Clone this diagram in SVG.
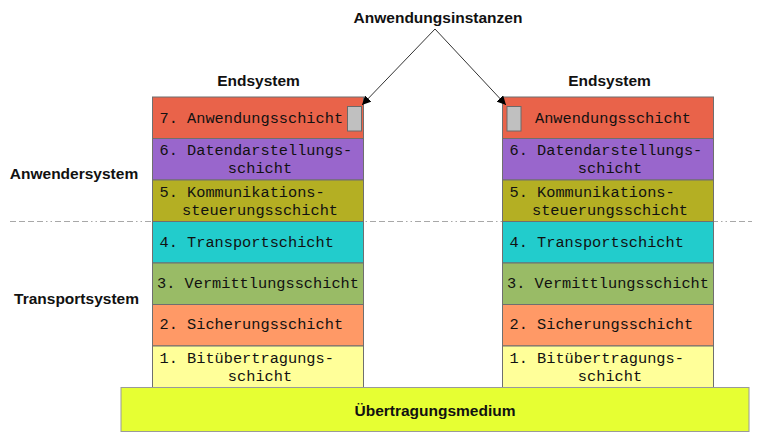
<svg xmlns="http://www.w3.org/2000/svg" width="768" height="442" viewBox="0 0 768 442">
<style>
.lbl{font-family:"Liberation Sans",Arial,sans-serif;font-weight:bold;font-size:15.5px;fill:#111}
.mono{font-family:"Liberation Mono","Courier New",monospace;font-size:15.3px;fill:#111}
.mid{text-anchor:middle}
.ly{stroke:#6f6f6f;stroke-width:1}
.inst{fill:#c0c0c0;stroke:#6a6a6a;stroke-width:1}
</style>
<defs>
<marker id="ah" viewBox="0 0 10 10" refX="10" refY="5" markerWidth="9" markerHeight="9" markerUnits="userSpaceOnUse" orient="auto">
<path d="M0,0 L10,5 L0,10 z" fill="#000"/>
</marker>
</defs>
<rect width="768" height="442" fill="#fff"/>

<g id="divider">
<line x1="10" y1="221.5" x2="752" y2="221.5" stroke="#a8a8a8" stroke-width="1" stroke-dasharray="6,3,6,3,6,3,6,3,1.5,3,1.5,3"/>
</g>

<g id="labels">
<text class="lbl mid" x="438" y="23">Anwendungsinstanzen</text>
<text class="lbl mid" x="258.5" y="86">Endsystem</text>
<text class="lbl mid" x="609.5" y="86">Endsystem</text>
<text class="lbl mid" x="74" y="179">Anwendersystem</text>
<text class="lbl mid" x="76.5" y="304">Transportsystem</text>
</g>

<g id="endsystem-left">
<rect class="ly" x="152.5" y="97" width="211" height="41.5" fill="#e9634a"/>
<rect class="ly" x="152.5" y="138.5" width="211" height="41.5" fill="#9966cc"/>
<rect class="ly" x="152.5" y="180" width="211" height="41.5" fill="#b4af23"/>
<rect class="ly" x="152.5" y="221.5" width="211" height="41.5" fill="#22cccc"/>
<rect class="ly" x="152.5" y="263" width="211" height="41.5" fill="#99bb66"/>
<rect class="ly" x="152.5" y="304.5" width="211" height="41.5" fill="#ff9966"/>
<rect class="ly" x="152.5" y="346" width="211" height="41.5" fill="#ffff99"/>
<rect class="inst" x="347.5" y="106.5" width="14" height="24.5"/>
<text class="mono" x="159.5" y="123">7. Anwendungsschicht</text>
<text class="mono" x="159.5" y="155">6. Datendarstellungs-</text>
<text class="mono mid" x="260" y="172.5">schicht</text>
<text class="mono" x="159.5" y="197">5. Kommunikations-</text>
<text class="mono mid" x="260" y="214.5">steuerungsschicht</text>
<text class="mono" x="159.5" y="247">4. Transportschicht</text>
<text class="mono" x="157" y="288">3. Vermittlungsschicht</text>
<text class="mono" x="159.5" y="329">2. Sicherungsschicht</text>
<text class="mono" x="159.5" y="363">1. Bitübertragungs-</text>
<text class="mono mid" x="260" y="380.5">schicht</text>
</g>

<g id="endsystem-right">
<rect class="ly" x="502.5" y="97" width="211" height="41.5" fill="#e9634a"/>
<rect class="ly" x="502.5" y="138.5" width="211" height="41.5" fill="#9966cc"/>
<rect class="ly" x="502.5" y="180" width="211" height="41.5" fill="#b4af23"/>
<rect class="ly" x="502.5" y="221.5" width="211" height="41.5" fill="#22cccc"/>
<rect class="ly" x="502.5" y="263" width="211" height="41.5" fill="#99bb66"/>
<rect class="ly" x="502.5" y="304.5" width="211" height="41.5" fill="#ff9966"/>
<rect class="ly" x="502.5" y="346" width="211" height="41.5" fill="#ffff99"/>
<rect class="inst" x="507" y="106.5" width="14" height="24.5"/>
<text class="mono mid" x="613" y="123">Anwendungsschicht</text>
<text class="mono" x="509.5" y="155">6. Datendarstellungs-</text>
<text class="mono mid" x="610" y="172.5">schicht</text>
<text class="mono" x="509.5" y="197">5. Kommunikations-</text>
<text class="mono mid" x="610" y="214.5">steuerungsschicht</text>
<text class="mono" x="509.5" y="247">4. Transportschicht</text>
<text class="mono" x="507" y="288">3. Vermittlungsschicht</text>
<text class="mono" x="509.5" y="329">2. Sicherungsschicht</text>
<text class="mono" x="509.5" y="363">1. Bitübertragungs-</text>
<text class="mono mid" x="610" y="380.5">schicht</text>
</g>

<g id="medium">
<rect x="121" y="387.5" width="628" height="44" fill="#e6ff33" stroke="#9a9a9a" stroke-width="1"/>
<text class="lbl mid" x="435" y="415.5">Übertragungsmedium</text>
</g>

<g id="connectors">
<line x1="435" y1="29" x2="362" y2="105" stroke="#333" stroke-width="1" marker-end="url(#ah)"/>
<line x1="435" y1="29" x2="506" y2="105" stroke="#333" stroke-width="1" marker-end="url(#ah)"/>
</g>
</svg>
